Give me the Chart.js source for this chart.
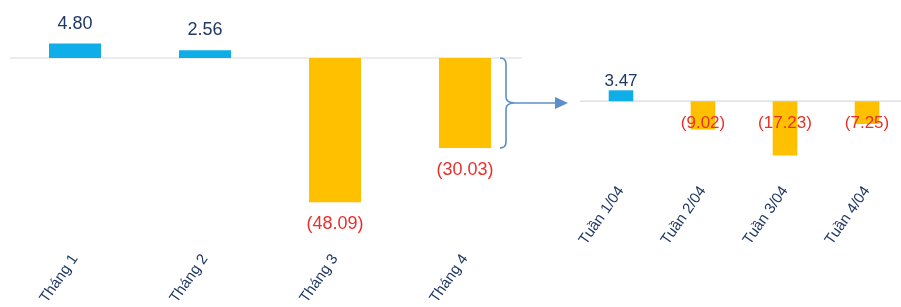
<!DOCTYPE html>
<html>
<head>
<meta charset="utf-8">
<script src="https://cdn.jsdelivr.net/npm/chart.js@4/dist/chart.umd.min.js"></script>
<style>
  html, body { margin:0; padding:0; background:#fff; width:901px; height:307px; overflow:hidden; }
  #wrap { position:relative; width:901px; height:307px; overflow:hidden; }
  #c1 { position:absolute; left:0; top:0; }
  #c2 { position:absolute; left:560px; top:0; }
</style>
</head>
<body>
<div id="wrap">
  <canvas id="c1" width="580" height="307"></canvas>
  <canvas id="c2" width="350" height="307"></canvas>
</div>
<script>
const monthLabels = ['Tháng 1', 'Tháng 2', 'Tháng 3', 'Tháng 4'];
const monthValues = [4.80, 2.56, -48.09, -30.03];
const weekLabels = ['Tuần 1/04', 'Tuần 2/04', 'Tuần 3/04', 'Tuần 4/04'];
const weekValues = [3.47, -9.02, -17.23, -7.25];

const BLUE = '#0FAEE8';
const YELLOW = '#FFC000';
const NAVY = '#1F3864';
const RED = '#E8302C';
const FONT = '"Liberation Sans", Arial, sans-serif';

function fmt(v) {
  const s = Math.abs(v).toFixed(2);
  return v < 0 ? '(' + s + ')' : s;
}

function makePlugin(cfg) {
  return {
    id: 'custom_' + cfg.name,
    beforeDatasetsDraw(chart) {
      const ctx = chart.ctx;
      const y0 = chart.scales.y.getPixelForValue(0);
      ctx.save();
      ctx.strokeStyle = '#D9D9D9';
      ctx.lineWidth = 1.2;
      ctx.beginPath();
      ctx.moveTo(chart.chartArea.left, y0);
      ctx.lineTo(chart.chartArea.right - cfg.lineTrim, y0);
      ctx.stroke();
      ctx.restore();
    },
    afterDatasetsDraw(chart) {
      const ctx = chart.ctx;
      const meta = chart.getDatasetMeta(0);
      const ds = chart.data.datasets[0].data;
      const y0 = chart.scales.y.getPixelForValue(0);
      ctx.save();
      ctx.font = cfg.fontSize + 'px ' + FONT;
      ctx.textAlign = 'center';
      ctx.textBaseline = 'middle';
      meta.data.forEach((bar, i) => {
        const v = ds[i];
        let y;
        if (v >= 0) {
          y = bar.y - cfg.posOffset;
          ctx.fillStyle = NAVY;
        } else {
          y = cfg.negFixed ? y0 + cfg.negOffset : bar.y + cfg.negOffset;
          ctx.fillStyle = RED;
        }
        ctx.fillText(fmt(v), bar.x, y);
      });
      if (cfg.bracket) {
        const last = meta.data[meta.data.length - 1];
        const yTop = y0;
        const yBot = chart.scales.y.getPixelForValue(ds[ds.length - 1]);
        const xL = last.x + last.width / 2 + 9;
        const xM = xL + 6;
        const xTip = xL + 15;
        const yMid = (yTop + yBot) / 2;
        const r = 6;
        ctx.strokeStyle = '#5B8FC9';
        ctx.lineWidth = 1.6;
        ctx.beginPath();
        ctx.moveTo(xL, yTop);
        ctx.quadraticCurveTo(xM, yTop, xM, yTop + r);
        ctx.lineTo(xM, yMid - r);
        ctx.quadraticCurveTo(xM, yMid, xTip, yMid);
        ctx.quadraticCurveTo(xM, yMid, xM, yMid + r);
        ctx.lineTo(xM, yBot - r);
        ctx.quadraticCurveTo(xM, yBot, xL, yBot);
        ctx.stroke();
        const xEnd = xTip + 53;
        ctx.beginPath();
        ctx.moveTo(xTip, yMid);
        ctx.lineTo(xEnd - 11, yMid);
        ctx.stroke();
        ctx.fillStyle = '#5B8FC9';
        ctx.beginPath();
        ctx.moveTo(xEnd, yMid);
        ctx.lineTo(xEnd - 13, yMid - 6);
        ctx.lineTo(xEnd - 13, yMid + 6);
        ctx.closePath();
        ctx.fill();
      }
      ctx.restore();
    }
  };
}

function makeChart(id, labels, values, opt) {
  return new Chart(document.getElementById(id), {
    type: 'bar',
    data: {
      labels: labels,
      datasets: [{
        data: values,
        backgroundColor: values.map(v => v >= 0 ? BLUE : YELLOW),
        borderWidth: 0,
        categoryPercentage: 1,
        barPercentage: opt.barPct
      }]
    },
    options: {
      responsive: false,
      animation: false,
      devicePixelRatio: 1,
      layout: { padding: { left: opt.padL, right: opt.padR, top: 10, bottom: 0 } },
      plugins: { legend: { display: false }, tooltip: { enabled: false } },
      scales: {
        x: {
          grid: { display: false, drawTicks: false },
          border: { display: false },
          ticks: {
            autoSkip: false,
            minRotation: 55,
            maxRotation: 55,
            padding: opt.tickPad,
            color: NAVY,
            font: { family: FONT, size: opt.tickSize }
          },
          afterFit(scale) { scale.height = opt.xHeight; }
        },
        y: {
          display: false,
          min: opt.min,
          max: opt.max
        }
      }
    },
    plugins: [makePlugin(opt)]
  });
}

makeChart('c1', monthLabels, monthValues, {
  name: 'months', barPct: 0.4, padL: 10, padR: 50, xHeight: 57,
  min: -64, max: 16, tickSize: 15, tickPad: 1, fontSize: 18,
  posOffset: 20, negOffset: 22, negFixed: false, lineTrim: 8, bracket: true
});

makeChart('c2', weekLabels, weekValues, {
  name: 'weeks', barPct: 0.3, padL: 20, padR: 2, xHeight: 124,
  min: -26, max: 29, tickSize: 15, tickPad: 0, fontSize: 17,
  posOffset: 9, negOffset: 22, negFixed: true, lineTrim: 0, bracket: false
});
</script>
</body>
</html>
